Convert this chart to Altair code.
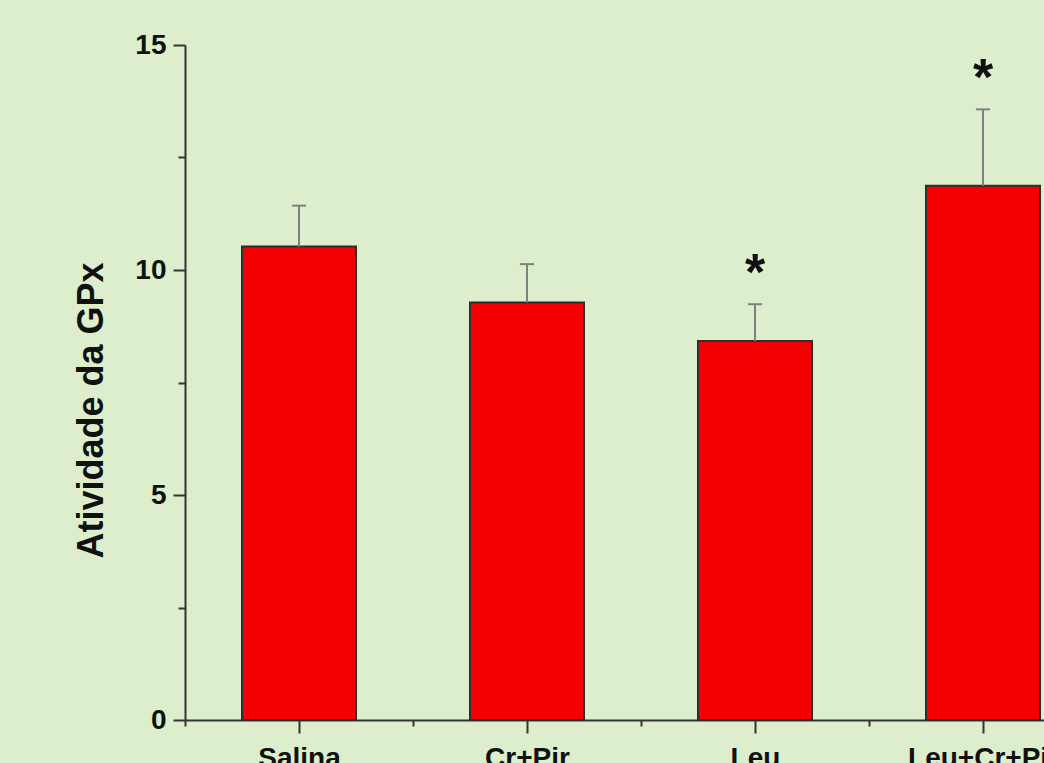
import altair as alt
import pandas as pd

# GPx activity per treatment group (mean and SD)
groups = ["Salina", "Cr+Pir", "Leu", "Leu+Cr+Pir"]
means = [10.52, 9.28, 8.42, 11.87]
sds = [0.91, 0.85, 0.82, 1.70]
significant = [False, False, True, True]

major_y = [0, 5, 10, 15]
minor_y = [2.5, 7.5, 12.5]
major_x = [0, 1, 2, 3]
minor_x = [-0.5, 0.5, 1.5, 2.5, 3.5]

df = pd.DataFrame({
    "grupo": groups,
    "pos": list(range(len(groups))),
    "media": means,
    "dp": sds,
    "sig": significant,
})

FONT = "Liberation Sans"
AXIS_COLOR = "#333333"

x_scale = alt.Scale(domain=[-0.5, 3.2675], nice=False, zero=False)
y_scale = alt.Scale(domain=[0, 15], nice=False)

label_expr = "[" + ",".join("'%s'" % g for g in groups) + "][datum.value]"

base = alt.Chart(df).transform_calculate(
    esq="datum.pos - 0.25",
    dir="datum.pos + 0.25",
    topo="datum.media + datum.dp",
    c1="datum.pos - 0.031",
    c2="datum.pos + 0.031",
)

bars = base.mark_rect(color="#f50000", stroke="#2e2e2e", strokeWidth=2).encode(
    x=alt.X("esq:Q", scale=x_scale, axis=alt.Axis(
        values=major_x, labelExpr=label_expr, tickSize=13, labelPadding=11,
        title=None, orient="bottom")),
    x2="dir:Q",
    y=alt.Y("media:Q", scale=y_scale, axis=alt.Axis(
        values=major_y, tickSize=12, labelPadding=7, orient="left",
        title="Atividade da GPx", titleX=-83, titleY=365, titleAngle=270,
        titleBaseline="alphabetic", titleAlign="center")),
    y2=alt.datum(0),
)

# error whiskers (upward only), carrying the minor-tick axes
whisker = base.mark_rule(color="#808080", strokeWidth=2).encode(
    x=alt.X("pos:Q", scale=x_scale, axis=alt.Axis(
        values=minor_x, labels=False, tickSize=6, domain=False,
        title=None, orient="bottom")),
    y=alt.Y("media:Q", scale=y_scale, axis=alt.Axis(
        values=minor_y, labels=False, tickSize=7, domain=False,
        title=None, orient="left")),
    y2="topo:Q",
)

caps = base.mark_rule(color="#808080", strokeWidth=2).encode(
    x=alt.X("c1:Q", scale=x_scale, axis=None),
    x2="c2:Q",
    y=alt.Y("topo:Q", scale=y_scale, axis=None),
)

stars = base.transform_filter("datum.sig").mark_text(
    text="*", font=FONT, fontSize=52, fontWeight="bold", color="#111111",
    baseline="alphabetic", dy=-14,
).encode(
    x=alt.X("pos:Q", scale=x_scale, axis=None),
    y=alt.Y("topo:Q", scale=y_scale, axis=None),
)

chart = alt.layer(bars, whisker, caps, stars).resolve_axis(
    x="independent", y="independent"
).properties(
    width=859,
    height=675,
    padding={"left": 185, "top": 45, "right": 0, "bottom": 43},
    autosize=alt.AutoSizeParams(type="none"),
    background="#ddeecc",
).configure_view(
    strokeWidth=0,
).configure_axis(
    grid=False,
    domainColor=AXIS_COLOR,
    domainWidth=2,
    tickColor=AXIS_COLOR,
    tickWidth=2,
    labelFont=FONT,
    labelFontSize=28,
    labelFontWeight="bold",
    labelColor="#111111",
    titleFont=FONT,
    titleFontSize=36,
    titleFontWeight="bold",
    titleColor="#111111",
)

chart.save("out.html", embed_options={"renderer": "svg", "actions": False})
